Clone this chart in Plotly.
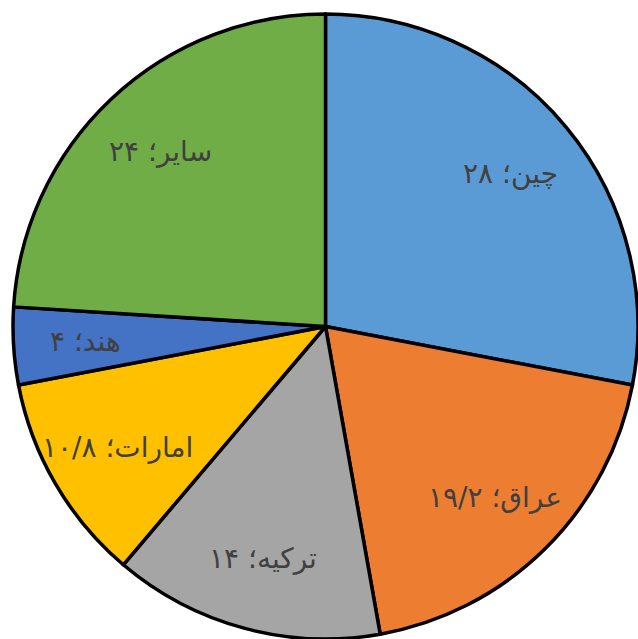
import math
import plotly.graph_objects as go

# Share by country (percent)
countries = ["چین", "عراق", "ترکیه", "امارات", "هند", "سایر"]
shares = [28, 19.2, 14, 10.8, 4, 24]
slice_colors = ["#5B9BD5", "#ED7D31", "#A5A5A5", "#FFC000", "#4472C4", "#70AD47"]

PERSIAN_DIGITS = str.maketrans("0123456789.", "۰۱۲۳۴۵۶۷۸۹/")


def fa_number(v):
    s = f"{v:g}"
    return s.translate(PERSIAN_DIGITS)


labels_text = [f"{c}؛ {fa_number(v)}" for c, v in zip(countries, shares)]

W, H = 638, 639
dom_x = [13 / W, 1]
dom_y = [0, 1 - 14 / H]

fig = go.Figure(
    go.Pie(
        labels=countries,
        values=shares,
        textinfo="none",
        sort=False,
        direction="clockwise",
        rotation=0,
        marker=dict(colors=slice_colors, line=dict(color="black", width=3.5)),
        domain=dict(x=dom_x, y=dom_y),
        hoverinfo="label+value",
        showlegend=False,
    )
)

# Data labels placed along each slice's mid-angle (clockwise from 12 o'clock)
cx = (dom_x[0] + dom_x[1]) / 2
cy = (dom_y[0] + dom_y[1]) / 2
radius_px = min((dom_x[1] - dom_x[0]) * W, (dom_y[1] - dom_y[0]) * H) / 2
label_frac = 0.77
total = sum(shares)
cum = 0.0
annotations = []
for txt, v in zip(labels_text, shares):
    mid = (cum + v / 2) / total * 2 * math.pi
    cum += v
    dx = label_frac * radius_px * math.sin(mid) / W
    dy = label_frac * radius_px * math.cos(mid) / H
    annotations.append(
        dict(
            x=cx + dx,
            y=cy + dy,
            xref="paper",
            yref="paper",
            text=txt,
            showarrow=False,
            xanchor="center",
            yanchor="middle",
            font=dict(family="DejaVu Sans", size=28, color="#404040"),
        )
    )

fig.update_layout(
    width=W,
    height=H,
    margin=dict(l=0, r=0, t=0, b=0),
    paper_bgcolor="white",
    plot_bgcolor="white",
    annotations=annotations,
)

fig.write_html("out.html")
